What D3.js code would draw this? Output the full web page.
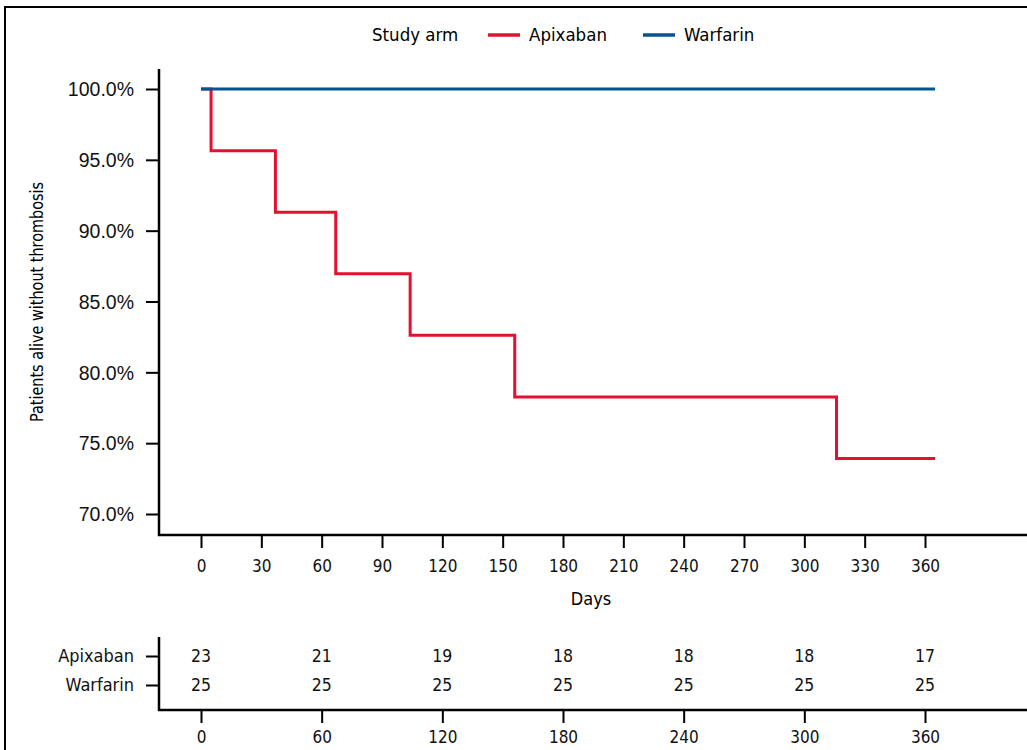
<!DOCTYPE html>
<html>
<head>
<meta charset="utf-8">
<script src="https://cdn.jsdelivr.net/npm/d3@7"></script>
<style>
  body { margin: 0; background: #fff; }
  svg { display: block; }
</style>
</head>
<body>
<svg id="chart"></svg>
<script>
// Kaplan-Meier style step data (days, % alive without thrombosis)
const apixabanDays = [0, 5, 37, 67, 104, 156, 316, 365];
const apixabanPct = [100, 95.65, 91.3, 86.96, 82.61, 78.26, 73.91, 73.91];
const warfarinDays = [0, 365];
const warfarinPct = [100, 100];

const arms = ["Apixaban", "Warfarin"];
const armColors = ["#e4102f", "#03548c"];

const yTicks = [70, 75, 80, 85, 90, 95, 100];
const xTicks = [0, 30, 60, 90, 120, 150, 180, 210, 240, 270, 300, 330, 360];

// numbers at risk
const riskDays = [0, 60, 120, 180, 240, 300, 360];
const riskApixaban = [23, 21, 19, 18, 18, 18, 17];
const riskWarfarin = [25, 25, 25, 25, 25, 25, 25];

const width = 1027;
const height = 750;

const regularFont = "'Liberation Sans', Arial, sans-serif";
const narrowFont = "'DejaVu Sans Condensed', 'Liberation Sans', sans-serif";

const svg = d3.select("#chart").attr("width", width).attr("height", height);

// outer frame (partially off page like the source)
svg.append("path")
  .attr("d", `M5,${height + 5} V7 H${width + 5}`)
  .attr("fill", "none")
  .attr("stroke", "#000")
  .attr("stroke-width", 2);

const x = d3.scaleLinear().domain([0, 360]).range([201, 925]);
const y = d3.scaleLinear().domain([70, 100]).range([514, 89]);

const axisLeftX = 159;
const axisBottomY = 535;

function styleTicks(g) {
  g.select(".domain").remove();
  g.selectAll(".tick line").attr("stroke", "#000").attr("stroke-width", 2);
}

// y axis
const yAxis = svg.append("g")
  .attr("transform", `translate(${axisLeftX},0)`)
  .call(d3.axisLeft(y).tickValues(yTicks).tickSize(13).tickSizeOuter(0)
    .tickFormat(d => d3.format(".1f")(d) + "%"));
styleTicks(yAxis);
yAxis.selectAll(".tick text")
  .attr("x", -25)
  .attr("dy", "0.35em")
  .style("font-family", regularFont)
  .style("font-size", "19.5px")
  .style("fill", "#111");

// x axis
const xAxis = svg.append("g")
  .attr("transform", `translate(0,${axisBottomY})`)
  .call(d3.axisBottom(x).tickValues(xTicks).tickSize(13).tickSizeOuter(0));
styleTicks(xAxis);
xAxis.selectAll(".tick text")
  .attr("y", 25)
  .style("font-family", narrowFont)
  .style("font-size", "17px")
  .style("fill", "#111");

svg.append("path")
  .attr("d", `M${axisLeftX},69 V${axisBottomY} H${width}`)
  .attr("fill", "none")
  .attr("stroke", "#000")
  .attr("stroke-width", 2.5);

// axis titles
svg.append("text")
  .attr("transform", `translate(43,302) rotate(-90)`)
  .attr("text-anchor", "middle")
  .attr("textLength", 240)
  .attr("lengthAdjust", "spacingAndGlyphs")
  .style("font-family", narrowFont)
  .style("font-size", "17px")
  .text("Patients alive without thrombosis");

svg.append("text")
  .attr("x", x(180) + 28)
  .attr("y", 605)
  .attr("text-anchor", "middle")
  .style("font-family", narrowFont)
  .style("font-size", "18px")
  .text("Days");

// survival curves
const step = d3.line().x(d => x(d[0])).y(d => y(d[1])).curve(d3.curveStepAfter);
const series = [
  d3.zip(apixabanDays, apixabanPct),
  d3.zip(warfarinDays, warfarinPct)
];
series.forEach((pts, i) => {
  svg.append("path")
    .datum(pts)
    .attr("d", step)
    .attr("fill", "none")
    .attr("stroke", armColors[i])
    .attr("stroke-width", 3);
});

// legend
const legend = svg.append("g")
  .style("font-family", narrowFont)
  .style("font-size", "18.5px");
legend.append("text").attr("x", 372).attr("y", 41).text("Study arm");
const legendX = [488, 643];
arms.forEach((name, i) => {
  legend.append("line")
    .attr("x1", legendX[i]).attr("x2", legendX[i] + 32)
    .attr("y1", 35).attr("y2", 35)
    .attr("stroke", armColors[i]).attr("stroke-width", 3.5);
  legend.append("text").attr("x", legendX[i] + 41).attr("y", 41).text(name);
});

// risk table
const riskTop = 637;
const riskBottom = 710;
const ry = d3.scalePoint().domain(arms).range([656, 685]);

const rAxisY = svg.append("g")
  .attr("transform", `translate(${axisLeftX},0)`)
  .call(d3.axisLeft(ry).tickSize(13).tickSizeOuter(0));
styleTicks(rAxisY);
rAxisY.selectAll(".tick text")
  .attr("x", -25)
  .style("font-family", narrowFont)
  .style("font-size", "18px")
  .style("fill", "#111");

const rAxisX = svg.append("g")
  .attr("transform", `translate(0,${riskBottom})`)
  .call(d3.axisBottom(x).tickValues(riskDays).tickSize(13).tickSizeOuter(0));
styleTicks(rAxisX);
rAxisX.selectAll(".tick text")
  .attr("y", 21)
  .style("font-family", narrowFont)
  .style("font-size", "17px")
  .style("fill", "#111");

svg.append("path")
  .attr("d", `M${axisLeftX},${riskTop} V${riskBottom} H${width}`)
  .attr("fill", "none")
  .attr("stroke", "#000")
  .attr("stroke-width", 2.5);

[riskApixaban, riskWarfarin].forEach((vals, i) => {
  svg.append("g").selectAll("text")
    .data(d3.zip(riskDays, vals))
    .join("text")
    .attr("x", d => x(d[0]))
    .attr("y", ry(arms[i]) + 6)
    .attr("text-anchor", "middle")
    .style("font-family", narrowFont)
    .style("font-size", "17.5px")
    .style("fill", "#111")
    .text(d => d[1]);
});
</script>
</body>
</html>
